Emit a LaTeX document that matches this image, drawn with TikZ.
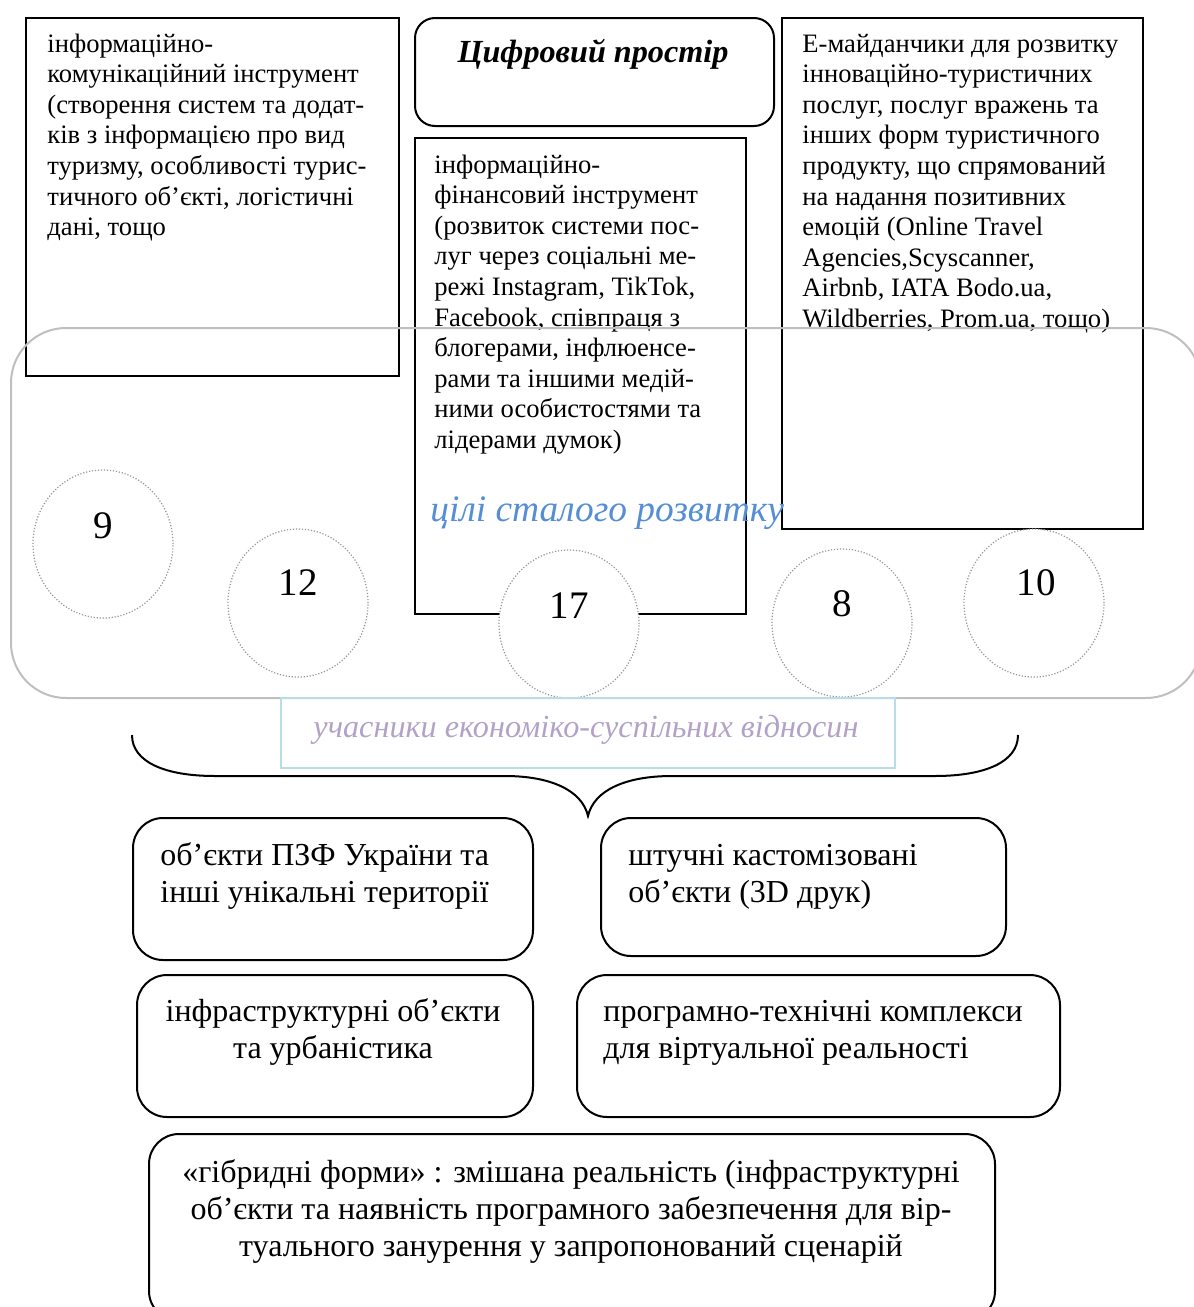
\documentclass[tikz,border=0pt]{standalone}
\usepackage{fontspec}
\setmainfont{Liberation Serif}
\usetikzlibrary{shapes.geometric}
\definecolor{sdgblue}{RGB}{85,142,213}
\definecolor{lav}{RGB}{179,162,199}
\definecolor{ltblue}{RGB}{183,221,232}
\definecolor{grayline}{RGB}{191,191,191}
\definecolor{dotgray}{RGB}{150,150,150}
\tikzset{
  sqbox/.style={draw=black, line width=1pt, rectangle, anchor=north west, inner sep=0pt},
  rbox/.style={draw=black, line width=1pt, rectangle, rounded corners=15pt, anchor=north west, inner sep=0pt},
  tbox/.style={draw=black, line width=1pt, rectangle, rounded corners=10pt, anchor=north west, inner sep=0pt},
  graybox/.style={draw=grayline, line width=1pt, rectangle, rounded corners=27.5pt, anchor=north west, inner sep=0pt},
  body/.style={font=\fontsize{13.3}{15.3}\selectfont, align=left, anchor=base west, inner sep=0pt},
  lower/.style={font=\fontsize{16}{18.4}\selectfont, inner sep=0pt},
  sdgcirc/.style={ellipse, draw=dotgray, line width=0.6pt, dash pattern=on 0.6pt off 0.9pt, fill=white, minimum width=70pt, minimum height=74pt, inner sep=0pt},
  num/.style={font=\fontsize{19.5}{24}\selectfont, inner sep=0pt},
}
\begin{document}
\begin{tikzpicture}[x=0.5pt,y=-0.5pt]
\useasboundingbox (0,0) rectangle (1194,1307);
\clip (0,0) rectangle (1194,1307);
% top boxes (text anchored at the baseline of the last line)
\node[sqbox, minimum width=186.5pt, minimum height=179pt] (boxA) at (25,17) {};
\node[body] (txtA) at (47,235.6) {інформаційно-\\комунікаційний інструмент\\(створення систем та додат-\\ків з інформацією про вид\\туризму, особливості турис-\\тичного об’єкті, логістичні\\дані, тощо};
\node[tbox, minimum width=179.5pt, minimum height=54pt] (title) at (414,17) {};
\node[font=\fontsize{16.1}{19}\selectfont\bfseries\itshape, anchor=base, inner sep=0pt] (titletxt) at (593,62) {Цифровий простір};
\node[sqbox, minimum width=165.5pt, minimum height=238pt] (boxB) at (414,137) {};
\node[body] (txtB) at (434,448.4) {інформаційно-\\фінансовий інструмент\\(розвиток системи пос-\\луг через соціальні ме-\\режі Instagram, TikTok,\\Facebook, співпраця з\\блогерами, інфлюенсе-\\рами та іншими медій-\\ними особистостями та\\лідерами думок)};
\node[sqbox, minimum width=180.5pt, minimum height=255.5pt] (boxC) at (781,17) {};
\node[body] (txtC) at (802,327.4) {Е-майданчики для розвитку\\інноваційно-туристичних\\послуг, послуг вражень та\\інших форм туристичного\\продукту, що спрямований\\на надання позитивних\\емоцій (Online Travel\\Agencies,Scyscanner,\\Airbnb, IATA Bodo.ua,\\Wildberries, Prom.ua, тощо)};
% SDG frame
\node[graybox, minimum width=595pt, minimum height=185pt] (sdg) at (10,327) {};
\node[font=\fontsize{18.7}{22}\selectfont\itshape, text=sdgblue, anchor=base west, inner sep=0pt] (sdgtxt) at (430,521) {цілі сталого розвитку};
\node[sdgcirc] (g9) at (103,544) {};
\node[sdgcirc] (g12) at (298,603) {};
\node[sdgcirc] (g17) at (569,624) {};
\node[sdgcirc] (g8) at (842,623) {};
\node[sdgcirc] (g10) at (1034,603) {};
\node[num] (n9) at (103,526) {9};
\node[num] (n12) at (298,583) {12};
\node[num] (n17) at (569,606) {17};
\node[num] (n8) at (842,604) {8};
\node[num] (n10) at (1036,583) {10};
% participants
\node[draw=ltblue, line width=1pt, rectangle, anchor=north west, inner sep=0pt, minimum width=307pt, minimum height=35pt] (part) at (280,697) {};
\node[font=\fontsize{16.1}{19}\selectfont\itshape, text=lav, anchor=base, inner sep=0pt] (parttxt) at (586,737) {учасники економіко-суспільних відносин};
% brace
\coordinate (brL) at (132,735);
\coordinate (brR) at (1018,735);
\coordinate (brTip) at (588,816);
\draw[line width=1pt] (brL) .. controls (132,762) and (165,776) .. (215,776) -- (505,776)
  .. controls (550,776) and (582,790) .. (brTip)
  .. controls (594,790) and (626,776) .. (672,776) -- (935,776)
  .. controls (985,776) and (1018,762) .. (brR);
% lower boxes (text anchored at the baseline of the last line)
\node[rbox, minimum width=200pt, minimum height=71pt] (boxD) at (132,817) {};
\node[lower, align=left, anchor=base west] (txtD) at (160,902) {об’єкти ПЗФ України та\\інші унікальні території};
\node[rbox, minimum width=202.5pt, minimum height=69pt] (boxE) at (600,817) {};
\node[lower, align=left, anchor=base west] (txtE) at (628,902) {штучні кастомізовані\\об’єкти (3D друк)};
\node[rbox, minimum width=198pt, minimum height=71pt] (boxF) at (136,974) {};
\node[lower, align=center, anchor=base] (txtF) at (333,1058) {інфраструктурні об’єкти\\та урбаністика};
\node[rbox, minimum width=241.5pt, minimum height=71pt] (boxG) at (576,974) {};
\node[lower, align=left, anchor=base west] (txtG) at (603,1058) {програмно-технічні комплекси\\для віртуальної реальності};
\node[rbox, minimum width=423pt, minimum height=93.5pt] (boxH) at (148,1133) {};
\node[lower, align=center, anchor=base] (txtH) at (571,1256) {«гібридні форми» : змішана реальність (інфраструктурні\\об’єкти та наявність програмного забезпечення для вір-\\туального занурення у запропонований сценарій};
\end{tikzpicture}
\end{document}
